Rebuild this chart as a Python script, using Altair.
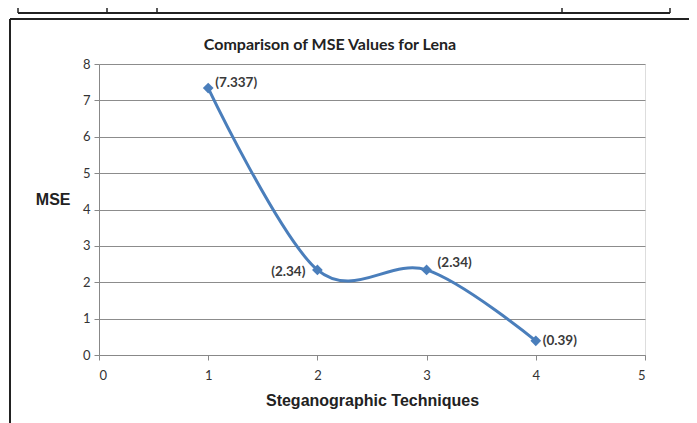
import altair as alt
import pandas as pd

technique = [1, 2, 3, 4]
mse = [7.337, 2.34, 2.34, 0.39]
labels = ["(7.337)", "(2.34)", "(2.34)", "(0.39)"]
chart_title = "Comparison of MSE Values for Lena"

df = pd.DataFrame({"technique": technique, "mse": mse, "label": labels, "idx": [0, 1, 2, 3]})

FONT = "Lato"
BLUE = "#4a7ebb"
GRID = "#8c8c8c"

x_enc = alt.X("technique:Q", scale=alt.Scale(domain=[0, 5], nice=False),
              axis=alt.Axis(values=[0, 1, 2, 3, 4, 5], format="d", grid=False,
                            title="Steganographic Techniques", tickSize=5,
                            labelFontSize=13, labelFont=FONT, labelColor="#333333",
                            labelPadding=9, titlePadding=10, titleFontSize=16,
                            titleFontWeight="bold", titleColor="#222222"))
y_enc = alt.Y("mse:Q", scale=alt.Scale(domain=[0, 8], nice=False),
              axis=alt.Axis(values=[0, 1, 2, 3, 4, 5, 6, 7, 8], format="d", grid=True,
                            gridColor=GRID, tickSize=5, labelPadding=4,
                            labelFontSize=13, labelFont=FONT, labelColor="#333333",
                            labelOverlap=False,
                            title="MSE", titleAngle=0, titleAlign="right",
                            titleBaseline="middle", titleX=-29, titleY=135,
                            titleFontSize=16, titleFontWeight="bold",
                            titleColor="#222222"))

base = alt.Chart(df).encode(x=x_enc, y=y_enc)
line = base.mark_line(interpolate="cardinal", tension=0, color=BLUE, strokeWidth=3)
pts = base.mark_point(shape="diamond", filled=True, size=115, color=BLUE, opacity=1)

offsets = [(7, -5, "left"), (-12, 2, "right"), (11, -7, "left"), (7, 0, "left")]
text_layers = []
for i, (dx, dy, al) in enumerate(offsets):
    text_layers.append(
        base.transform_filter(alt.datum.idx == i).mark_text(
            dx=dx, dy=dy, align=al, baseline="middle", font=FONT,
            fontSize=13.5, fontWeight="bold", color="#3a3a3a"
        ).encode(text="label:N")
    )

one = alt.Data(values=[{"t": chart_title}])
title_mark = alt.Chart(one).mark_text(
    font=FONT, fontSize=16, fontWeight="bold", color="#222222",
    align="center", baseline="middle"
).encode(x=alt.value(231), y=alt.value(-19), text="t:N")

frame_color = "#222222"
deco = [
    alt.Chart(one).mark_rule(color=frame_color, strokeWidth=2).encode(
        x=alt.value(-89), y=alt.value(-45), y2=alt.value(375)),
    alt.Chart(one).mark_rule(color=frame_color, strokeWidth=2).encode(
        x=alt.value(-89), x2=alt.value(600), y=alt.value(-45)),
    alt.Chart(one).mark_rule(color=frame_color, strokeWidth=2).encode(
        x=alt.value(-81), x2=alt.value(571), y=alt.value(-51)),
]
for vx in [-81, 8, 58, 463, 571]:
    deco.append(alt.Chart(one).mark_rule(color=frame_color, strokeWidth=1.5).encode(
        x=alt.value(vx), y=alt.value(-70), y2=alt.value(-51)))

chart = alt.layer(line, pts, *text_layers, title_mark, *deco).properties(
    width=546, height=291,
    autosize=alt.AutoSizeParams(type="none"),
    padding={"left": 91, "top": 56, "right": 44, "bottom": 70},
).configure_axis(
    labelFont=FONT, titleFont=FONT,
    domainColor=GRID, tickColor=GRID,
).configure_view(stroke=None).configure(background="white")

chart.save("out.html", embed_options={"renderer": "svg", "actions": False})
